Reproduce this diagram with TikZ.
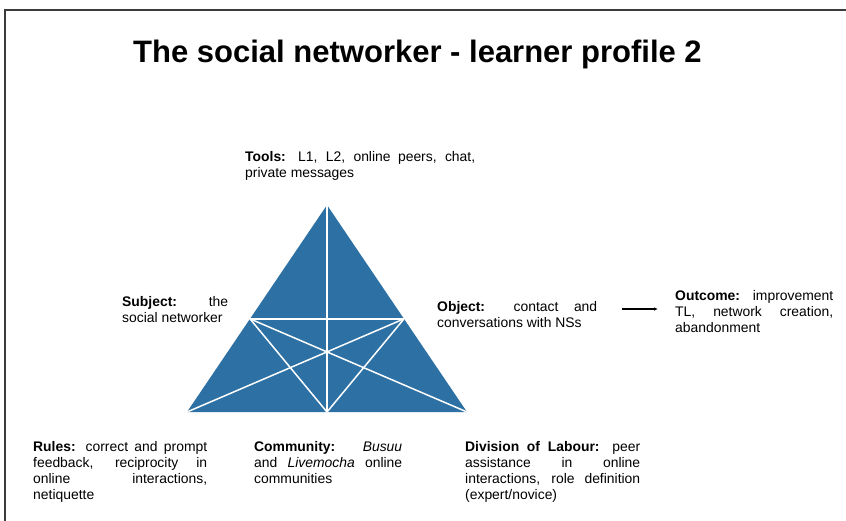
\documentclass[tikz,border=0pt]{standalone}
\usepackage{fontspec}
\setmainfont{Liberation Sans}
\usetikzlibrary{arrows.meta,calc}
\definecolor{triblue}{RGB}{44,112,164}
\definecolor{framegray}{RGB}{60,60,60}
\hyphenpenalty=10000
\exhyphenpenalty=10000
\tolerance=10000
\hbadness=10000
\begin{document}
\begin{tikzpicture}[x=1pt,y=-1pt,
  lbl/.style={anchor=north west,inner sep=0pt,align=justify,
    font=\fontsize{13.9}{16}\selectfont},
  inner/.style={draw=white,line width=1.5pt},
  framing/.style={draw=framegray,line width=1.1pt}]
\useasboundingbox (0,0) rectangle (846,521);
% frame
\coordinate (f1) at (5,521);
\coordinate (f2) at (5,10);
\coordinate (f3) at (846,10);
\draw[framing] (f1) -- (f2) -- (f3);
% title
\node[anchor=base,inner sep=0pt,font=\fontsize{31}{36}\selectfont\bfseries] (title) at (417.5,63) {The social networker - learner profile 2};
% triangle
\coordinate (A) at (327,205);
\coordinate (BL) at (187,412);
\coordinate (BR) at (467,412);
\coordinate (M) at ($(BL)!0.5!(BR)$);
\coordinate (L) at ($(A)!0.55!(BL)$);
\coordinate (R) at ($(A)!0.55!(BR)$);
\fill[triblue] (A) -- (BL) -- (BR) -- cycle;
\draw[inner] (A) -- (M);
\draw[inner] (L) -- (R);
\draw[inner] (L) -- (BR);
\draw[inner] (L) -- (M);
\draw[inner] (R) -- (BL);
\draw[inner] (R) -- (M);
% labels
\node[lbl,text width=230pt] (tools) at (245,151.5) {\textbf{Tools:} L1, L2, online peers, chat,\linebreak private messages};
\node[lbl,text width=106pt] (subject) at (122,296.5) {\textbf{Subject:} the\linebreak social networker};
\node[lbl,text width=160pt] (object) at (437,301) {\textbf{Object:} contact and\linebreak conversations with NSs};
\node[lbl,text width=158pt] (outcome) at (675,290) {\textbf{Outcome:} improvement\linebreak TL, network creation,\linebreak abandonment};
\node[lbl,text width=174pt] (rules) at (33,441.5) {\textbf{Rules:} correct and prompt\linebreak feedback, reciprocity in\linebreak online interactions,\linebreak netiquette};
\node[lbl,text width=148pt] (community) at (254,441.5) {\textbf{Community:} \textit{Busuu}\linebreak and \textit{Livemocha} online\linebreak communities};
\node[lbl,text width=175pt] (division) at (465,441.5) {\textbf{Division of Labour:} peer\linebreak assistance in online\linebreak interactions, role definition\linebreak (expert/novice)};
% arrow
\coordinate (a1) at (622,309);
\coordinate (a2) at (658,309);
\draw[line width=1.3pt,-{Latex[length=4pt,width=3.5pt]}] (a1) -- (a2);
\end{tikzpicture}
\end{document}
